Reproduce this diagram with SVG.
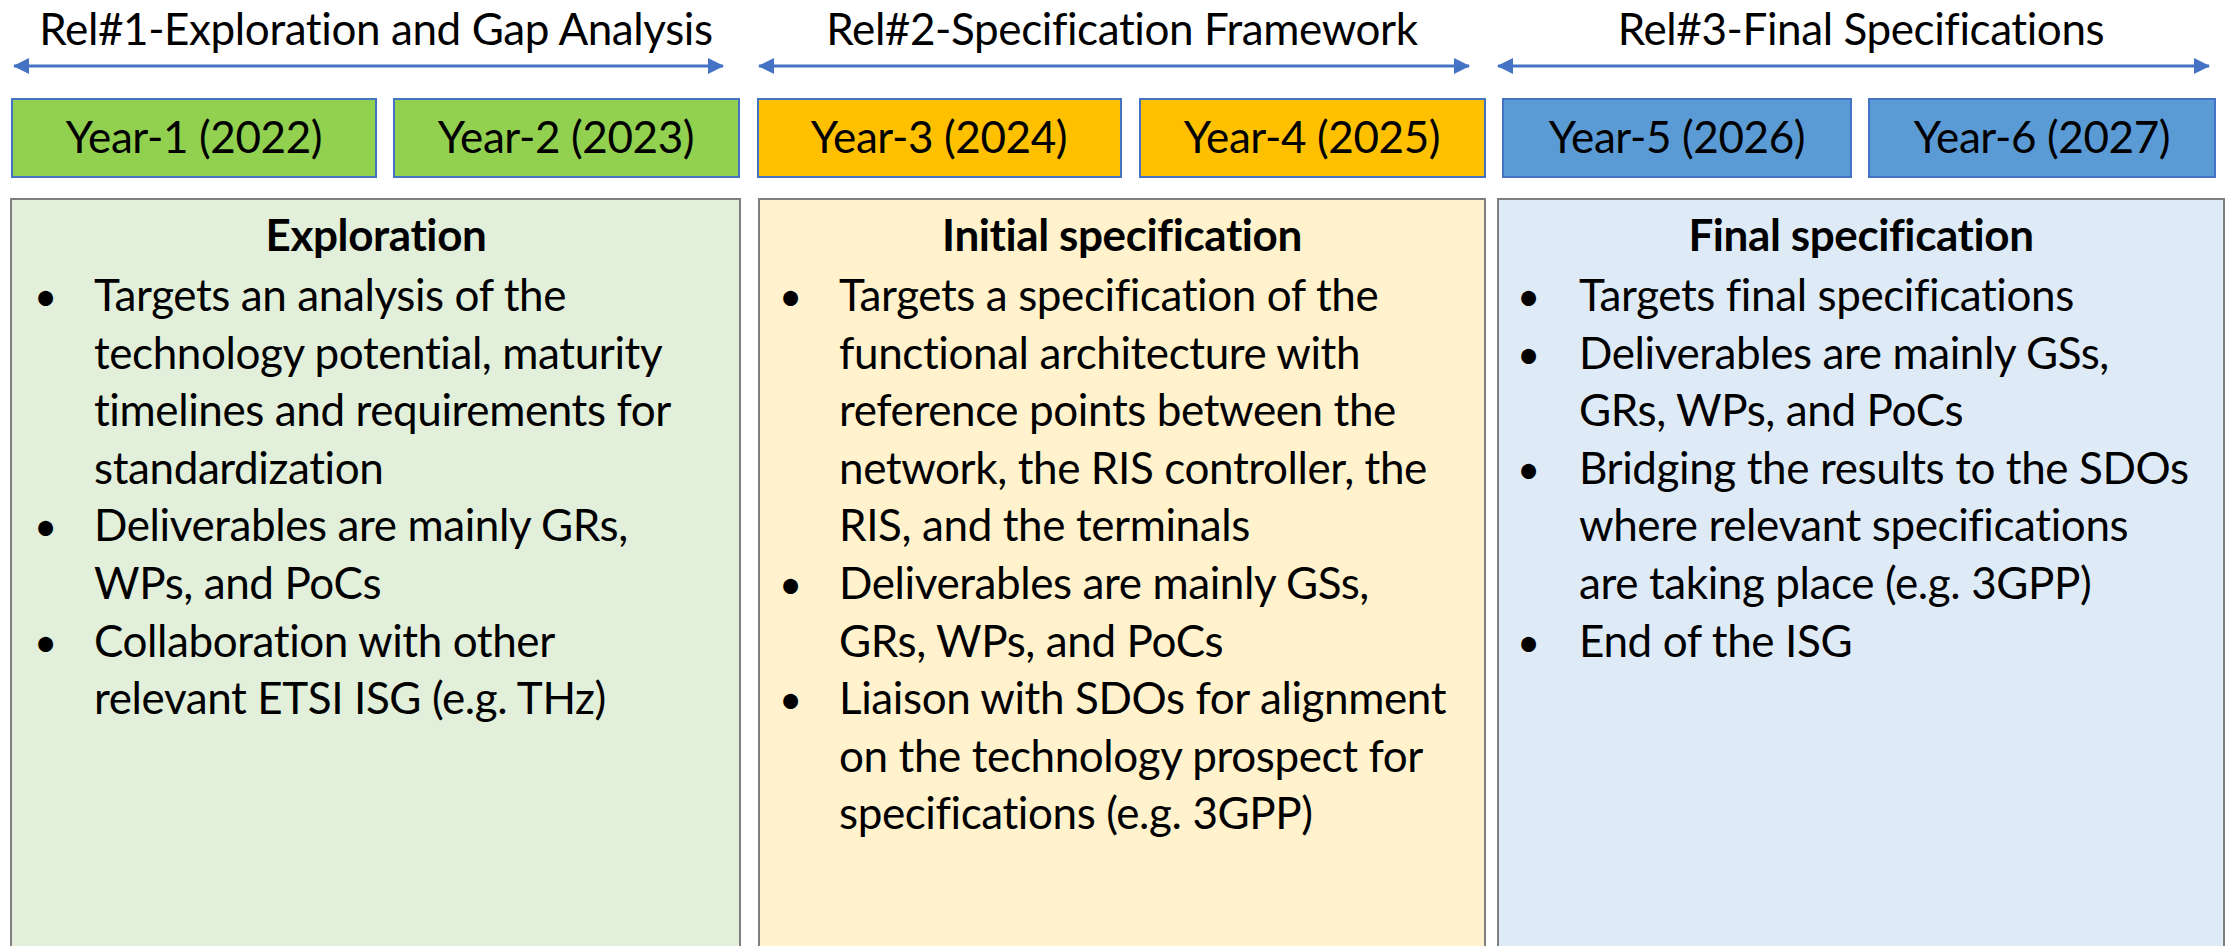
<svg xmlns="http://www.w3.org/2000/svg" width="2226" height="946" viewBox="0 0 2226 946">
<style>
text { font-family: Lato, "Liberation Sans", sans-serif; font-size: 44px; letter-spacing: -0.4px; fill: #000; }
.c { text-anchor: middle; }
.b { font-weight: bold; }
.bu { font-size: 40px; }
.yr { stroke: #4472C4; stroke-width: 2; }
.panel { stroke: #7F7F7F; stroke-width: 2; }
.arr { stroke: #4472C4; stroke-width: 3; fill: none; marker-start: url(#ah); marker-end: url(#ah); }
</style>
<defs>
<marker id="ah" viewBox="0 0 16 16" refX="15" refY="8" markerWidth="16" markerHeight="16" markerUnits="userSpaceOnUse" orient="auto-start-reverse">
<path d="M0,0 L16,8 L0,16 z" fill="#4472C4"/>
</marker>
</defs>
<rect x="0" y="0" width="2226" height="946" fill="#FFFFFF"/>

<g id="connectors">
<line class="arr" x1="14" y1="66" x2="723" y2="66"/>
<line class="arr" x1="759" y1="66" x2="1469" y2="66"/>
<line class="arr" x1="1498" y1="66" x2="2209" y2="66"/>
</g>

<g id="rel1-label"><text class="c" x="376" y="45">Rel#1-Exploration and Gap Analysis</text></g>
<g id="rel2-label"><text class="c" x="1122" y="45">Rel#2-Specification Framework</text></g>
<g id="rel3-label"><text class="c" x="1861" y="45">Rel#3-Final Specifications</text></g>

<g id="year1"><rect class="yr" x="12" y="99" width="364" height="78" fill="#92D050"/><text class="c" x="194" y="153">Year-1 (2022)</text></g>
<g id="year2"><rect class="yr" x="394" y="99" width="345" height="78" fill="#92D050"/><text class="c" x="566" y="153">Year-2 (2023)</text></g>
<g id="year3"><rect class="yr" x="758" y="99" width="363" height="78" fill="#FFC000"/><text class="c" x="939" y="153">Year-3 (2024)</text></g>
<g id="year4"><rect class="yr" x="1140" y="99" width="345" height="78" fill="#FFC000"/><text class="c" x="1312" y="153">Year-4 (2025)</text></g>
<g id="year5"><rect class="yr" x="1503" y="99" width="348" height="78" fill="#5B9BD5"/><text class="c" x="1677" y="153">Year-5 (2026)</text></g>
<g id="year6"><rect class="yr" x="1869" y="99" width="346" height="78" fill="#5B9BD5"/><text class="c" x="2042" y="153">Year-6 (2027)</text></g>

<g id="panel-exploration">
<rect class="panel" x="11" y="199" width="729" height="760" fill="#E2EFDA"/>
<text class="c b" x="376" y="251">Exploration</text>
<text class="bu" x="34" y="311">•</text><text x="94" y="311">Targets an analysis of the</text>
<text x="94" y="368.6">technology potential, maturity</text>
<text x="94" y="426.2">timelines and requirements for</text>
<text x="94" y="483.8">standardization</text>
<text class="bu" x="34" y="541.4">•</text><text x="94" y="541.4">Deliverables are mainly GRs,</text>
<text x="94" y="599">WPs, and PoCs</text>
<text class="bu" x="34" y="656.6">•</text><text x="94" y="656.6">Collaboration with other</text>
<text x="94" y="714.2">relevant ETSI ISG (e.g. THz)</text>
</g>

<g id="panel-initial">
<rect class="panel" x="759" y="199" width="726" height="760" fill="#FFF2CC"/>
<text class="c b" x="1122" y="251">Initial specification</text>
<text class="bu" x="779" y="311">•</text><text x="839" y="311">Targets a specification of the</text>
<text x="839" y="368.6">functional architecture with</text>
<text x="839" y="426.2">reference points between the</text>
<text x="839" y="483.8">network, the RIS controller, the</text>
<text x="839" y="541.4">RIS, and the terminals</text>
<text class="bu" x="779" y="599">•</text><text x="839" y="599">Deliverables are mainly GSs,</text>
<text x="839" y="656.6">GRs, WPs, and PoCs</text>
<text class="bu" x="779" y="714.2">•</text><text x="839" y="714.2">Liaison with SDOs for alignment</text>
<text x="839" y="771.8">on the technology prospect for</text>
<text x="839" y="829.4">specifications (e.g. 3GPP)</text>
</g>

<g id="panel-final">
<rect class="panel" x="1498" y="199" width="726" height="760" fill="#DEEBF7"/>
<text class="c b" x="1861" y="251">Final specification</text>
<text class="bu" x="1517" y="311">•</text><text x="1579" y="311">Targets final specifications</text>
<text class="bu" x="1517" y="368.6">•</text><text x="1579" y="368.6">Deliverables are mainly GSs,</text>
<text x="1579" y="426.2">GRs, WPs, and PoCs</text>
<text class="bu" x="1517" y="483.8">•</text><text x="1579" y="483.8">Bridging the results to the SDOs</text>
<text x="1579" y="541.4">where relevant specifications</text>
<text x="1579" y="599">are taking place (e.g. 3GPP)</text>
<text class="bu" x="1517" y="656.6">•</text><text x="1579" y="656.6">End of the ISG</text>
</g>
</svg>
